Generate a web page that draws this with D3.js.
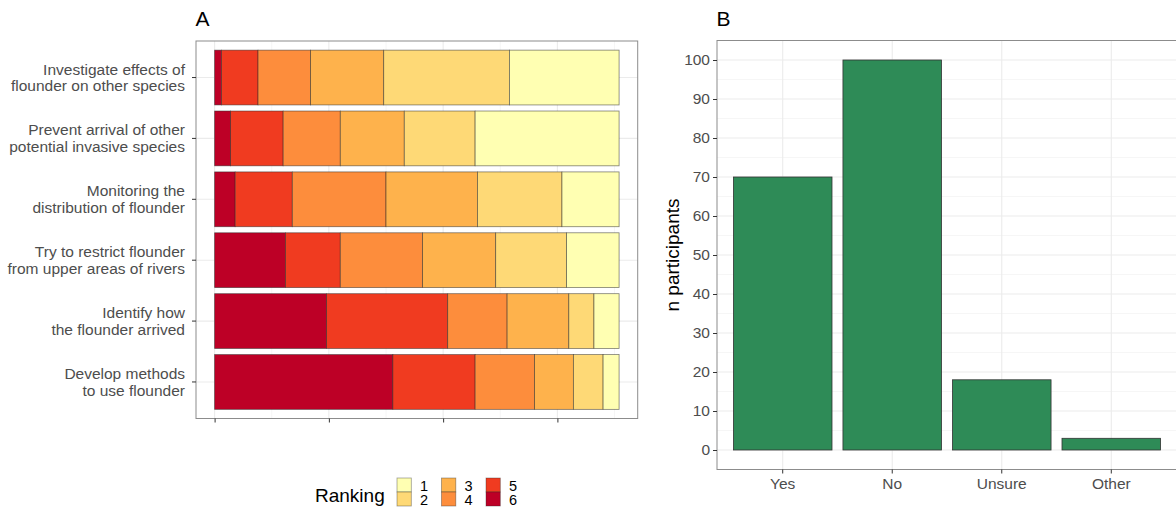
<!DOCTYPE html>
<html><head><meta charset="utf-8">
<script src="https://cdn.jsdelivr.net/npm/d3@7"></script>
<style>body{margin:0;background:#fff}svg{display:block;font-family:"Liberation Sans",Arial,sans-serif}</style>
</head><body><svg id="c" width="1176" height="510"></svg>
<script>
// Panel A data
const actions = [
  ["Investigate effects of","flounder on other species"],
  ["Prevent arrival of other","potential invasive species"],
  ["Monitoring the","distribution of flounder"],
  ["Try to restrict flounder","from upper areas of rivers"],
  ["Identify how","the flounder arrived"],
  ["Develop methods","to use flounder"]
];
const rankings = ["1","2","3","4","5","6"];
// counts per ranking for each action (stacked from left: rank 6 first)
const rank6 = [3, 7, 9, 31, 49, 78];
const rank5 = [16, 23, 25, 24, 53, 36];
const rank4 = [23, 25, 41, 36, 26, 26];
const rank3 = [32, 28, 40, 32, 27, 17];
const rank2 = [55, 31, 37, 31, 11, 13];
const rank1 = [48, 63, 25, 23, 11, 7];
const rankColors = ["#FFFFB2","#FED976","#FEB24C","#FD8D3C","#F03B20","#BD0026"];
const xTicksA = [0, 50, 100, 150];

// Panel B data
const answers = ["Yes","No","Unsure","Other"];
const participants = [70, 100, 18, 3];
const yTicksB = [0,10,20,30,40,50,60,70,80,90,100];

const svg = d3.select("#c");
const grey = "#4d4d4d";

// ---------- Panel A ----------
const A = {l:196, r:637.7, t:41, b:418.5};
const keyOf = a => a.join(" ");
const rows = actions.map((a,i)=>({key:keyOf(a), lines:a, vals:{"6":rank6[i],"5":rank5[i],"4":rank4[i],"3":rank3[i],"2":rank2[i],"1":rank1[i]}}));
const total = d3.sum(Object.values(rows[0].vals));
const ex = 0.046*total;
const xA = d3.scaleLinear().domain([-ex, total+ex]).range([A.l, A.r]);
const yA = d3.scaleBand().domain(rows.map(r=>r.key)).range([A.t, A.b]).paddingInner(0.1).paddingOuter(0.15);
const gA = svg.append("g");
d3.range(25, total+1, 50).forEach(v=>{
  gA.append("line").attr("x1",xA(v)).attr("x2",xA(v)).attr("y1",A.t).attr("y2",A.b).attr("stroke","#f4f4f4").attr("stroke-width",0.8);
});
xTicksA.forEach(v=>{
  gA.append("line").attr("x1",xA(v)).attr("x2",xA(v)).attr("y1",A.t).attr("y2",A.b).attr("stroke","#ebebeb").attr("stroke-width",1.1);
});
rows.forEach(r=>{
  const yc = yA(r.key)+yA.bandwidth()/2;
  gA.append("line").attr("x1",A.l).attr("x2",A.r).attr("y1",yc).attr("y2",yc).attr("stroke","#ebebeb").attr("stroke-width",1.1);
});
const stackOrder = ["6","5","4","3","2","1"];
rows.forEach(r=>{
  let cum = 0;
  stackOrder.forEach(k=>{
    const v = r.vals[k];
    gA.append("rect").attr("x",xA(cum)).attr("width",xA(cum+v)-xA(cum))
      .attr("y",yA(r.key)).attr("height",yA.bandwidth())
      .attr("fill",rankColors[+k-1]).attr("stroke","rgba(40,40,40,0.6)").attr("stroke-width",0.8);
    cum += v;
  });
});
gA.append("rect").attr("x",A.l).attr("y",A.t).attr("width",A.r-A.l).attr("height",A.b-A.t).attr("fill","none").attr("stroke","#8c8c8c").attr("stroke-width",1);
const axA = d3.axisBottom(xA).tickValues(xTicksA).tickFormat("").tickSizeOuter(0).tickSize(4);
const axAg = svg.append("g").attr("transform",`translate(0,${A.b})`).call(axA);
axAg.select(".domain").remove();
axAg.selectAll("line").attr("stroke","#333").attr("stroke-width",1);
const axAy = d3.axisLeft(yA).tickSize(4).tickSizeOuter(0).tickFormat("");
const axAyg = svg.append("g").attr("transform",`translate(${A.l},0)`).call(axAy);
axAyg.select(".domain").remove();
axAyg.selectAll("line").attr("stroke","#333");
rows.forEach(r=>{
  const yc = yA(r.key)+yA.bandwidth()/2;
  const t = svg.append("text").attr("x",185).attr("text-anchor","end").attr("fill",grey).style("font-size","15.5px");
  t.append("tspan").attr("x",185).attr("y",yc-8.35+5.4).text(r.lines[0]);
  t.append("tspan").attr("x",185).attr("y",yc+8.35+5.4).text(r.lines[1]);
});
svg.append("text").attr("x",A.l-0.5).attr("y",26).text("A").style("font-size","21px").attr("fill","#000");

// Legend
const lg = svg.append("g");
lg.append("text").attr("x",315).attr("y",502).text("Ranking").style("font-size","19px").attr("fill","#000");
rankings.forEach((k,i)=>{
  const col = Math.floor(i/2), row = i%2;
  const kx = 397 + col*44.5, ky = 478 + row*14;
  lg.append("rect").attr("x",kx).attr("y",ky).attr("width",14.3).attr("height",14).attr("fill",rankColors[i]).attr("stroke","rgba(40,40,40,0.45)").attr("stroke-width",0.8);
  lg.append("text").attr("x",kx+23).attr("y",ky+13.2).text(k).style("font-size","14.5px").attr("fill","#000");
});

// ---------- Panel B ----------
const B = {l:717, r:1177, t:40.5, b:469.5};
const xB = d3.scaleBand().domain(answers).range([B.l, B.r]).paddingInner(0.1).paddingOuter(0.15);
const yB = d3.scaleLinear().domain([-5,105]).range([B.b, B.t]);
const gB = svg.append("g");
d3.range(5,100,10).forEach(v=>{
  gB.append("line").attr("x1",B.l).attr("x2",B.r).attr("y1",yB(v)).attr("y2",yB(v)).attr("stroke","#f4f4f4").attr("stroke-width",0.8);
});
yTicksB.forEach(v=>{
  gB.append("line").attr("x1",B.l).attr("x2",B.r).attr("y1",yB(v)).attr("y2",yB(v)).attr("stroke","#ebebeb").attr("stroke-width",1.1);
});
answers.forEach(a=>{
  const xc = xB(a)+xB.bandwidth()/2;
  gB.append("line").attr("x1",xc).attr("x2",xc).attr("y1",B.t).attr("y2",B.b).attr("stroke","#ebebeb").attr("stroke-width",1.1);
});
answers.forEach((a,i)=>{
  gB.append("rect").attr("x",xB(a)).attr("width",xB.bandwidth())
    .attr("y",yB(participants[i])).attr("height",yB(0)-yB(participants[i]))
    .attr("fill","#2E8B57").attr("stroke","#333").attr("stroke-width",0.8);
});
gB.append("rect").attr("x",B.l).attr("y",B.t).attr("width",B.r-B.l).attr("height",B.b-B.t).attr("fill","none").attr("stroke","#8c8c8c").attr("stroke-width",1);
const axBx = d3.axisBottom(xB).tickSize(4).tickSizeOuter(0).tickPadding(4);
const axBxg = svg.append("g").attr("transform",`translate(0,${B.b})`).call(axBx);
axBxg.select(".domain").remove();
axBxg.selectAll("line").attr("stroke","#333");
axBxg.selectAll("text").attr("fill",grey).style("font-size","15.5px").style("font-family","Liberation Sans, Arial, sans-serif");
const axBy = d3.axisLeft(yB).tickValues(yTicksB).tickSize(4).tickSizeOuter(0).tickPadding(3);
const axByg = svg.append("g").attr("transform",`translate(${B.l},0)`).call(axBy);
axByg.select(".domain").remove();
axByg.selectAll("line").attr("stroke","#333");
axByg.selectAll("text").attr("fill",grey).style("font-size","15.5px").style("font-family","Liberation Sans, Arial, sans-serif");
svg.append("text").attr("transform",`translate(679,${(B.t+B.b)/2}) rotate(-90)`).attr("text-anchor","middle").text("n participants").style("font-size","19px").attr("fill","#000");
svg.append("text").attr("x",B.l-0.5).attr("y",26).text("B").style("font-size","21px").attr("fill","#000");
</script></body></html>
